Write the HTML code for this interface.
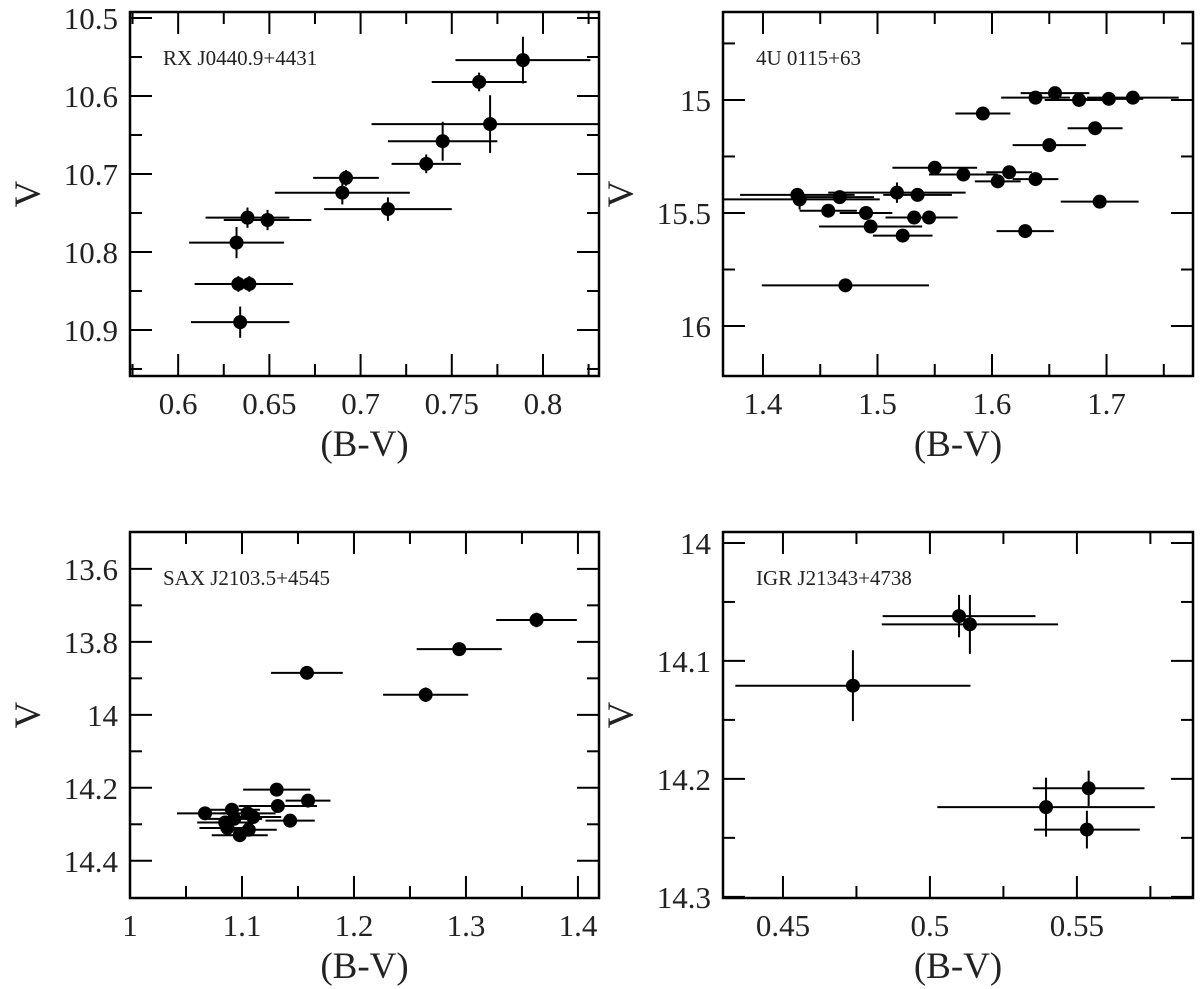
<!DOCTYPE html>
<html><head><meta charset="utf-8"><style>
html,body{margin:0;padding:0;background:#fff;}
svg{display:block;font-family:"Liberation Serif",serif;}
</style></head><body>
<svg id="fig" width="1200" height="989" viewBox="0 0 1200 989" xmlns="http://www.w3.org/2000/svg"></svg>
<script>
// Panel 1: RX J0440.9+4431
const p1Name = "RX J0440.9+4431";
const p1X = [0.789,0.765,0.771,0.745,0.736,0.692,0.690,0.715,0.638,0.649,0.632,0.633,0.639,0.634];
const p1Y = [10.554,10.582,10.636,10.658,10.687,10.705,10.724,10.745,10.756,10.759,10.788,10.841,10.841,10.890];
const p1XE = [0.037,0.026,0.065,0.030,0.019,0.018,0.037,0.035,0.023,0.024,0.026,0.024,0.024,0.027];
const p1YE = [0.030,0.012,0.037,0.025,0.012,0.010,0.015,0.015,0.013,0.013,0.020,0.010,0.010,0.020];
const p1XTicks = ["0.6","0.65","0.7","0.75","0.8"];
const p1YTicks = ["10.5","10.6","10.7","10.8","10.9"];

// Panel 2: 4U 0115+63
const p2Name = "4U 0115+63";
const p2X = [1.638,1.655,1.676,1.702,1.723,1.592,1.690,1.650,1.550,1.575,1.605,1.615,1.638,1.430,1.432,1.467,1.517,1.535,1.694,1.457,1.490,1.532,1.545,1.494,1.522,1.629,1.472];
const p2Y = [14.99,14.97,15.00,14.995,14.99,15.06,15.125,15.20,15.30,15.33,15.36,15.32,15.35,15.42,15.44,15.43,15.41,15.42,15.45,15.49,15.50,15.52,15.52,15.56,15.60,15.58,15.82];
const p2XE = [0.03,0.03,0.03,0.03,0.04,0.024,0.024,0.032,0.037,0.03,0.02,0.02,0.02,0.05,0.07,0.03,0.06,0.03,0.034,0.025,0.023,0.025,0.025,0.045,0.026,0.025,0.073];
const p2YE = [0.02,0.02,0.015,0.015,0.02,0.015,0.02,0.02,0.025,0.02,0.02,0.02,0.02,0.03,0.045,0.02,0.045,0.02,0.02,0.02,0.02,0.02,0.02,0.02,0.02,0.02,0.025];
const p2XTicks = ["1.4","1.5","1.6","1.7"];
const p2YTicks = ["15","15.5","16"];

// Panel 3: SAX J2103.5+4545
const p3Name = "SAX J2103.5+4545";
const p3X = [1.363,1.294,1.264,1.158,1.131,1.159,1.132,1.067,1.143,1.091,1.105,1.110,1.087,1.098,1.106,1.093,1.085];
const p3Y = [13.74,13.82,13.945,13.885,14.205,14.235,14.25,14.27,14.29,14.26,14.27,14.28,14.31,14.33,14.315,14.285,14.295];
const p3XE = [0.036,0.038,0.038,0.032,0.030,0.020,0.035,0.025,0.022,0.025,0.025,0.025,0.025,0.025,0.025,0.025,0.025];
const p3YE = [0.020,0.015,0.020,0.015,0.015,0.015,0.010,0.012,0.012,0.012,0.012,0.012,0.012,0.012,0.012,0.012,0.012];
const p3XTicks = ["1","1.1","1.2","1.3","1.4"];
const p3YTicks = ["13.6","13.8","14","14.2","14.4"];

// Panel 4: IGR J21343+4738
const p4Name = "IGR J21343+4738";
const p4X = [0.5099,0.5136,0.4738,0.5540,0.5395,0.5534];
const p4Y = [14.062,14.069,14.121,14.208,14.224,14.243];
const p4XE = [0.026,0.030,0.040,0.019,0.037,0.018];
const p4YE = [0.018,0.025,0.030,0.015,0.025,0.016];
const p4XTicks = ["0.45","0.5","0.55"];
const p4YTicks = ["14","14.1","14.2","14.3"];

const NS="http://www.w3.org/2000/svg";
const svg=document.getElementById('fig');
function el(tag,attrs,parent){const e=document.createElementNS(NS,tag);for(const k in attrs)e.setAttribute(k,attrs[k]);(parent||svg).appendChild(e);return e;}

function panel(id,box,xd,yd,xTicks,xStep,xMinorStep,yTicks,yStart,yStep,yMinorStep,name,xs,ys,xes,yes,xTickVals){
  const g=el('g',{});
  
  
  const [L,T,R,B]=box;
  const sx=v=>L+(v-xd[0])/(xd[1]-xd[0])*(R-L);
  const sy=v=>T+(v-yd[0])/(yd[1]-yd[0])*(B-T);
  const cid='clip-'+id;
  const cp=el('clipPath',{id:cid},g);el('rect',{x:L,y:T,width:R-L,height:B-T},cp);
  const tg=el('g',{stroke:'#000','stroke-width':2},g);
  const eps=1e-9;
  for(let v=Math.ceil((xd[0]-eps)/xMinorStep)*xMinorStep; v<=xd[1]+eps; v+=xMinorStep){
    const isMajor=Math.abs(v/xStep-Math.round(v/xStep))<1e-6;
    const len=isMajor?22:12, X=sx(v);
    if(X<L+1||X>R-1) continue;
    el('line',{x1:X,y1:B,x2:X,y2:B-len},tg);el('line',{x1:X,y1:T,x2:X,y2:T+len},tg);
  }
  for(let v=Math.ceil((yd[0]-eps)/yMinorStep)*yMinorStep; v<=yd[1]+eps; v+=yMinorStep){
    const isMajor=Math.abs((v-yStart)/yStep-Math.round((v-yStart)/yStep))<1e-6;
    const len=isMajor?22:12, Y=sy(v);
    if(Y<T+1||Y>B-1) continue;
    el('line',{x1:L,y1:Y,x2:L+len,y2:Y},tg);el('line',{x1:R,y1:Y,x2:R-len,y2:Y},tg);
  }
  xTicks.forEach((t,i)=>{
    const tx=el('text',{x:sx(xTickVals[i]),y:B+38,'font-size':31,'text-anchor':'middle',fill:'#222'},g);
    tx.textContent=t;
    
    
  });
  yTicks.forEach((t,i)=>{
    const ty=el('text',{x:L-12,y:sy(yStart+i*yStep)+11,'font-size':31,'text-anchor':'end',fill:'#222'},g);
    ty.textContent=t;
    
    
  });
  const xt=el('text',{x:(L+R)/2,y:B+80,'font-size':37,'text-anchor':'middle',fill:'#222'},g);
  xt.textContent='(B-V)';
  
  
  const yt=el('text',{x:0,y:0,'font-size':37,'text-anchor':'middle',fill:'#222',transform:`translate(${L-90},${(T+B)/2}) rotate(-90)`},g);
  yt.textContent='V';
  
  
  const nt=el('text',{x:L+33,y:T+53,'font-size':21,fill:'#222'},g);
  nt.textContent=name;
  
  
  const dg=el('g',{'clip-path':`url(#${cid})`,stroke:'#000','stroke-width':2},g);
  xs.forEach((x,i)=>{
    const X=sx(x),Y=sy(ys[i]);
    const hb=el('line',{x1:sx(x-xes[i]),y1:Y,x2:sx(x+xes[i]),y2:Y},dg);
    
    
    const vb=el('line',{x1:X,y1:sy(ys[i]-yes[i]),x2:X,y2:sy(ys[i]+yes[i])},dg);
    
    
    const c=el('circle',{cx:X,cy:Y,r:7,fill:'#000',stroke:'none'},dg);
    
    
  });
  const fr=el('rect',{x:L,y:T,width:R-L,height:B-T,fill:'none',stroke:'#000','stroke-width':2.5},g);
  
  
}

panel('panel-rx-j0440',[130,12,599,376],[0.5736,0.8307],[10.4923,10.9590],
  p1XTicks,0.05,0.025,p1YTicks,10.5,0.1,0.05,p1Name,p1X,p1Y,p1XE,p1YE,[0.6,0.65,0.7,0.75,0.8]);
panel('panel-4u-0115',[723,12,1193,376],[1.3651,1.7755],[14.611,16.221],
  p2XTicks,0.1,0.05,p2YTicks,15,0.5,0.25,p2Name,p2X,p2Y,p2XE,p2YE,[1.4,1.5,1.6,1.7]);
panel('panel-sax-j2103',[130,532,599,898],[1.0,1.4188],[13.499,14.502],
  p3XTicks,0.1,0.05,p3YTicks,13.6,0.2,0.1,p3Name,p3X,p3Y,p3XE,p3YE,[1,1.1,1.2,1.3,1.4]);
panel('panel-igr-j21343',[723,532,1193,898],[0.4296,0.5895],[13.9907,14.301],
  p4XTicks,0.05,0.025,p4YTicks,14,0.1,0.05,p4Name,p4X,p4Y,p4XE,p4YE,[0.45,0.5,0.55]);
</script>
</body></html>
